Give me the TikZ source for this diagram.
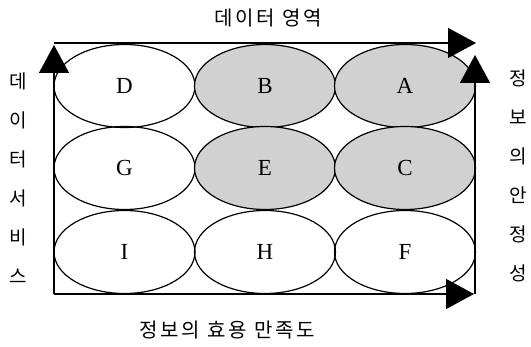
\documentclass[tikz,border=0pt]{standalone}
\usepackage{fontspec}
\setmainfont{Liberation Serif}
\newfontfamily\kr[LetterSpace=14]{Noto Sans CJK KR}
\newfontfamily\krv{Noto Sans CJK KR}
\usetikzlibrary{arrows.meta,shapes.geometric}
\begin{document}
\begin{tikzpicture}[x=1pt,y=-1pt,
  cell/.style={draw=black,line width=1.2pt,ellipse,minimum width=141pt,minimum height=83pt,inner sep=0pt,font=\fontsize{23}{23}\selectfont},
  shaded/.style={cell,fill=black!18},
  axis/.style={line width=1.4pt,-{Triangle[length=28pt,width=30pt]}},
  lab/.style={font=\kr\fontsize{20}{20}\selectfont},
  vlab/.style={font=\krv\fontsize{19}{39}\selectfont,align=center,inner sep=0pt}]
\useasboundingbox (0,0) rectangle (531,347);
\node[cell]   (D) at (124.5,86) {D};
\node[shaded] (B) at (265,86) {B};
\node[shaded] (A) at (405,86) {A};
\node[cell]   (G) at (124.5,168) {G};
\node[shaded] (E) at (265,168) {E};
\node[shaded] (C) at (405,168) {C};
\node[cell]   (I) at (124.5,252) {I};
\node[cell]   (H) at (265,252) {H};
\node[cell]   (F) at (405,252) {F};
\coordinate (tl) at (54,43);
\coordinate (tr) at (476,43);
\coordinate (bl) at (54,294);
\coordinate (br) at (475,294);
\coordinate (lt) at (54,45);
\coordinate (rt) at (475,55);
\coordinate (be) at (474,294);
\draw[axis] (tl) -- (tr);
\draw[axis] (bl) -- (lt);
\draw[axis] (br) -- (rt);
\draw[axis] (bl) -- (be);
\node[lab] (top) at (268,18) {데이터 영역};
\node[lab] (bot) at (227,330) {정보의 효용 만족도};
\node[vlab] (left) at (18,178) {데\\이\\터\\서\\비\\스};
\node[vlab] (right) at (518,176) {정\\보\\의\\안\\정\\성};
\end{tikzpicture}
\end{document}
